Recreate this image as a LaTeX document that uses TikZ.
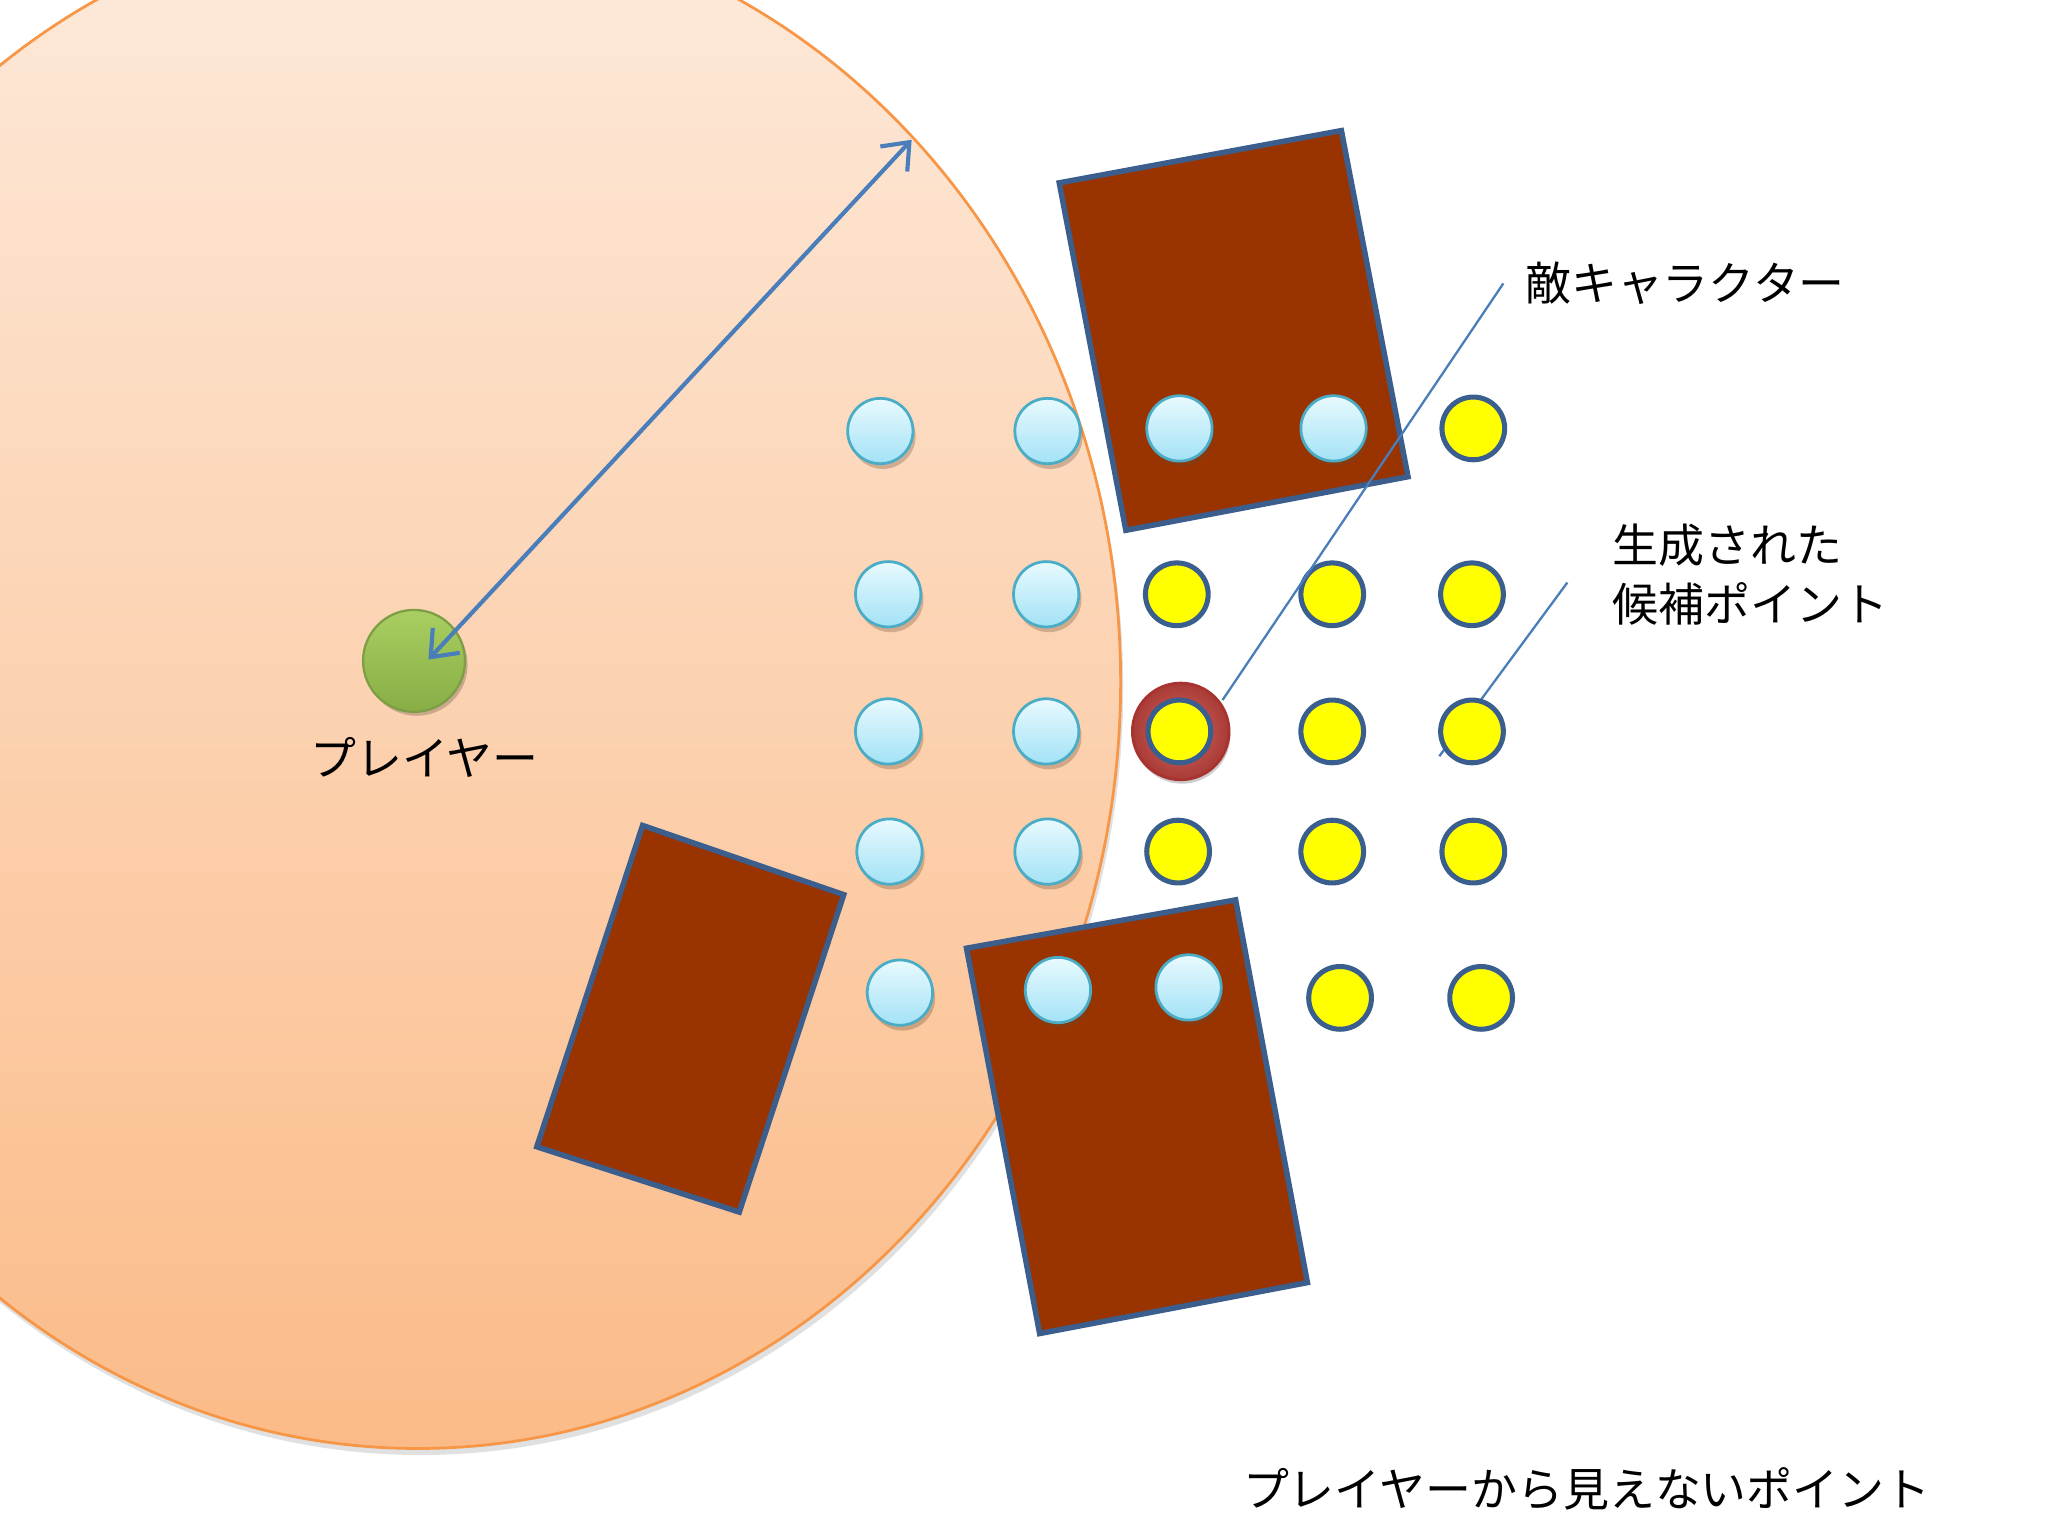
\documentclass[tikz,border=0pt]{standalone}
\usepackage{fontspec}
\setmainfont{Noto Sans CJK JP}
\usetikzlibrary{arrows.meta,shadows}
\definecolor{peachtop}{HTML}{FDEADB}
\definecolor{peachbot}{HTML}{FBBB88}
\definecolor{peachedge}{HTML}{F79646}
\definecolor{wallbrown}{HTML}{993300}
\definecolor{walledge}{HTML}{3B5E8C}
\definecolor{cyantop}{HTML}{E8FAFE}
\definecolor{cyanbot}{HTML}{A3E2F6}
\definecolor{cyanedge}{HTML}{4BACC6}
\definecolor{ptyellow}{HTML}{FFFF00}
\definecolor{ptedge}{HTML}{3A5F8E}
\definecolor{arrowblue}{HTML}{4A7EBB}
\definecolor{greentop}{HTML}{A9CF62}
\definecolor{greenbot}{HTML}{88AD45}
\definecolor{greenedge}{HTML}{7E9E45}
\definecolor{ringred}{HTML}{D24A44}
\definecolor{ringedge}{HTML}{A8322E}
\definecolor{shadowbrown}{HTML}{6B4A30}
\begin{document}
\begin{tikzpicture}[x=0.01cm,y=-0.01cm,
  font=\fontsize{10pt}{13pt}\selectfont,
  wall/.style={draw=walledge, line width=1.2pt, fill=wallbrown, line join=miter},
  cpt/.style={circle, minimum size=0.5cm, inner sep=0pt, draw=cyanedge, line width=0.6pt,
    top color=cyantop, bottom color=cyanbot,
    drop shadow={shadow xshift=0.02cm, shadow yshift=-0.04cm, opacity=0.3, fill=shadowbrown}},
  ypt/.style={circle, minimum size=0.48cm, inner sep=0pt, draw=ptedge, line width=1.1pt, fill=ptyellow},
  leader/.style={draw=arrowblue, line width=0.5pt},
  lbl/.style={inner sep=0pt, text=black}]
\useasboundingbox (0,0) rectangle (1568,1176);
\begin{scope}
\clip (0,0) rectangle (1568,1176);
% view range shadow and ellipse
\fill[black, opacity=0.12] (322,527) ellipse [x radius=538, y radius=587];
\draw[peachedge, line width=0.6pt, top color=peachtop, bottom color=peachbot]
  (320,522) ellipse [x radius=538, y radius=587];
\end{scope}
% obstacles
\draw[wall] (492,632) -- (646,685) -- (566,928) -- (411,878) -- cycle;
\draw[wall] (811,140) -- (1027,100) -- (1078,365) -- (862,406) -- cycle;
\draw[wall] (740,726) -- (946,689) -- (1001,982) -- (796,1021) -- cycle;
% leader line under candidate point
\coordinate (l2a) at (1200,446);
\coordinate (l2b) at (1102,579);
\draw[leader] (l2a) -- (l2b);
% player
\node[circle, minimum size=0.78cm, inner sep=0pt, draw=greenedge, line width=0.5pt,
  top color=greentop, bottom color=greenbot,
  drop shadow={shadow xshift=0.02cm, shadow yshift=-0.03cm, opacity=0.2, fill=black}] (player) at (317,506) {};
\coordinate (arrA) at (328,505);
\coordinate (arrB) at (698,107);
\draw[arrowblue, line width=0.9pt,
  {Straight Barb[length=5pt,width=8pt]}-{Straight Barb[length=5pt,width=8pt]}] (arrA) -- (arrB);
% visible points (cyan)
\node[cpt] (c11) at (674,330) {};
\node[cpt] (c12) at (802,330) {};
\node[cpt] (c13) at (903,328) {};
\node[cpt] (c14) at (1021,328) {};
\node[cpt] (c21) at (680,455) {};
\node[cpt] (c22) at (801,455) {};
\node[cpt] (c31) at (680,560) {};
\node[cpt] (c32) at (801,560) {};
\node[cpt] (c41) at (681,652) {};
\node[cpt] (c42) at (802,652) {};
\node[cpt] (c51) at (689,760) {};
\node[cpt] (c52) at (810,758) {};
\node[cpt] (c53) at (910,756) {};
% enemy ring
\node[circle, minimum size=0.74cm, inner sep=0pt, draw=ringedge, line width=0.6pt,
  inner color=ringred!85!white, outer color=ringred!80!black,
  drop shadow={shadow xshift=0.01cm, shadow yshift=-0.03cm, opacity=0.2, fill=black}] (enemy) at (904,560) {};
% invisible points (yellow)
\node[ypt] (y15) at (1128,328) {};
\node[ypt] (y23) at (901,455) {};
\node[ypt] (y24) at (1020,455) {};
\node[ypt] (y25) at (1127,455) {};
\node[ypt] (y33) at (903,560) {};
\node[ypt] (y34) at (1020,560) {};
\node[ypt] (y35) at (1127,560) {};
\node[ypt] (y43) at (902,652) {};
\node[ypt] (y44) at (1020,652) {};
\node[ypt] (y45) at (1128,652) {};
\node[ypt] (y54) at (1026,764) {};
\node[ypt] (y55) at (1134,764) {};
% enemy leader
\coordinate (l1a) at (1151,217);
\coordinate (l1b) at (936,536);
\draw[leader] (l1a) -- (l1b);
% labels
\node[lbl, anchor=west] (enemylbl) at (1167,217) {敵キャラクター};
\node[lbl, anchor=west, align=left] (candlbl) at (1234,440) {生成された\\候補ポイント};
\node[lbl] (playerlbl) at (325,580) {プレイヤー};
\node[lbl, anchor=west] (hiddenlbl) at (951,1140) {プレイヤーから見えないポイント};
\end{tikzpicture}
\end{document}
